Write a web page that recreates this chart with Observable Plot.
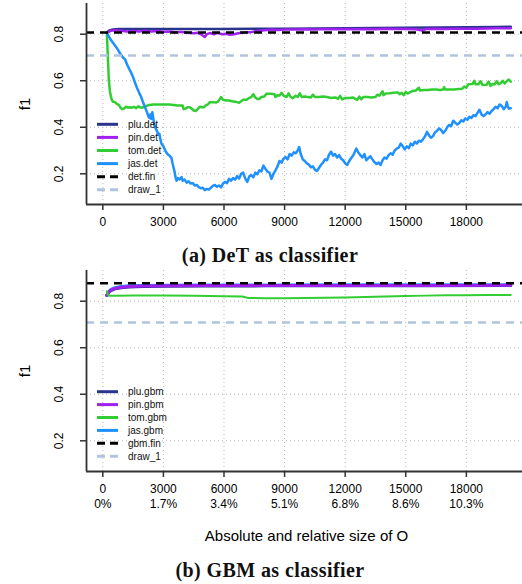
<!DOCTYPE html>
<html><head><meta charset="utf-8">
<script src="https://cdn.jsdelivr.net/npm/d3@7"></script>
<script src="https://cdn.jsdelivr.net/npm/@observablehq/plot@0.6"></script>
<style>
body{margin:0;background:#fff;}
#root{position:relative;width:522px;height:584px;overflow:hidden;font-family:"Liberation Sans",Arial,sans-serif;background:#fff;}
.panel{position:absolute;left:0;}
.caption{position:absolute;left:0;width:540px;text-align:center;font-family:"Liberation Serif","Times New Roman",serif;font-weight:bold;font-size:20px;line-height:24px;color:#111;letter-spacing:0.4px;}
#legend{position:absolute;left:0;top:0;pointer-events:none;}
</style></head><body><div id="root"></div><script>
// ---------- axes / ticks ----------
const xDomain = [-808, 20780];
const yDomain = [0.068, 0.932];
const xTicks = [0, 3000, 6000, 9000, 12000, 15000, 18000];
const xPct = ["0%", "1.7%", "3.4%", "5.1%", "6.8%", "8.6%", "10.3%"];
const yTicks = [0.2, 0.4, 0.6, 0.8];
const yLabel = "f1";
const xTitle = "Absolute and relative size of O";
const captionA = "(a) DeT as classifier";
const captionB = "(b) GBM as classifier";

// ---------- colours ----------
const colPlu = "#28348e", colPin = "#a020f0", colTom = "#32cd32", colJas = "#1e90ff";
const colFin = "#000000", colDraw = "#b0c4de";

// ---------- reference lines ----------
const detFin = 0.807;
const gbmFin = 0.877;
const draw1 = 0.709;

// ---------- (a) DeT series: [size of O, f1] ----------
const pluDet = [[200,0.806],[300,0.815],[500,0.820],[800,0.822],[1500,0.822],[3000,0.822],[4500,0.822],[6000,0.822],[7500,0.823],[9000,0.824],[10500,0.825],[12000,0.826],[13500,0.827],[15000,0.828],[16500,0.829],[18000,0.830],[19500,0.831],[20200,0.832]];
const pinDet = [[200,0.806],[400,0.815],[600,0.817],[900,0.815],[1200,0.812],[1500,0.814],[1800,0.812],[2100,0.815],[2400,0.812],[2700,0.814],[3000,0.811],[3300,0.812],[3600,0.808],[3900,0.810],[4200,0.806],[4500,0.804],[4700,0.806],[4900,0.798],[5050,0.788],[5150,0.800],[5300,0.805],[5500,0.800],[5700,0.806],[5900,0.800],[6100,0.802],[6300,0.798],[6500,0.800],[6700,0.804],[6900,0.806],[7100,0.808],[7300,0.808],[7500,0.812],[7700,0.815],[7900,0.816],[8100,0.818],[8400,0.819],[8700,0.818],[9000,0.820],[9500,0.820],[10000,0.821],[10500,0.820],[11000,0.822],[11500,0.821],[12000,0.822],[12500,0.821],[13000,0.822],[13500,0.821],[14000,0.823],[14500,0.822],[15000,0.822],[15500,0.821],[15800,0.816],[16000,0.822],[16500,0.823],[17000,0.822],[17500,0.824],[18000,0.824],[18500,0.823],[19000,0.825],[19500,0.826],[20200,0.826]];
const tomDet = [[200,0.806],[250,0.700],[300,0.600],[350,0.555],[400,0.532],[450,0.518],[500,0.510],[600,0.508],[700,0.500],[800,0.495],[900,0.482],[950,0.478],[1050,0.480],[1150,0.488],[1250,0.484],[1350,0.486],[1450,0.484],[1550,0.488],[1650,0.482],[1750,0.490],[1850,0.486],[1950,0.484],[2050,0.488],[2150,0.492],[2300,0.496],[2500,0.498],[2700,0.498],[2900,0.498],[3100,0.498],[3300,0.498],[3500,0.496],[3700,0.494],[3850,0.494],[3950,0.494],[4000,0.478],[4100,0.480],[4200,0.486],[4300,0.486],[4400,0.480],[4500,0.472],[4600,0.470],[4700,0.478],[4800,0.488],[4900,0.486],[5000,0.486],[5100,0.494],[5200,0.498],[5300,0.508],[5450,0.508],[5600,0.506],[5700,0.510],[5800,0.522],[5850,0.530],[5950,0.518],[6100,0.515],[6250,0.515],[6400,0.512],[6550,0.510],[6650,0.508],[6750,0.505],[6850,0.512],[6950,0.518],[7100,0.518],[7250,0.526],[7350,0.530],[7450,0.542],[7550,0.528],[7650,0.522],[7750,0.522],[7850,0.530],[8000,0.532],[8100,0.544],[8300,0.544],[8500,0.542],[8550,0.530],[8650,0.538],[8750,0.536],[8850,0.548],[8950,0.536],[9100,0.530],[9200,0.546],[9300,0.530],[9400,0.525],[9550,0.535],[9650,0.530],[9750,0.546],[9850,0.530],[10000,0.532],[10150,0.530],[10300,0.528],[10400,0.540],[10500,0.530],[10700,0.530],[10900,0.532],[11100,0.530],[11300,0.526],[11500,0.528],[11650,0.522],[11750,0.535],[11850,0.520],[12000,0.526],[12200,0.526],[12400,0.528],[12500,0.522],[12600,0.518],[12700,0.532],[12800,0.520],[12900,0.530],[13100,0.530],[13300,0.528],[13500,0.530],[13600,0.540],[13700,0.536],[13850,0.555],[13900,0.538],[14000,0.545],[14200,0.546],[14400,0.548],[14600,0.550],[14700,0.542],[14800,0.548],[14900,0.538],[15000,0.552],[15100,0.545],[15200,0.550],[15350,0.556],[15500,0.558],[15650,0.570],[15700,0.558],[15900,0.560],[16100,0.560],[16300,0.562],[16500,0.562],[16700,0.560],[16850,0.562],[16900,0.572],[16950,0.562],[17200,0.562],[17400,0.562],[17600,0.564],[17800,0.566],[17900,0.575],[18000,0.570],[18100,0.585],[18300,0.586],[18400,0.600],[18450,0.585],[18600,0.585],[18700,0.598],[18800,0.582],[19000,0.583],[19100,0.596],[19200,0.578],[19300,0.586],[19400,0.584],[19500,0.598],[19600,0.585],[19700,0.590],[19800,0.600],[19900,0.588],[20000,0.598],[20100,0.605],[20200,0.596]];
const jasDet = [[200,0.806],[400,0.775],[550,0.758],[700,0.740],[850,0.718],[1000,0.700],[1100,0.692],[1200,0.670],[1300,0.652],[1400,0.635],[1500,0.615],[1600,0.590],[1700,0.568],[1800,0.548],[1900,0.530],[2000,0.505],[2100,0.484],[2200,0.462],[2250,0.448],[2300,0.440],[2350,0.455],[2400,0.436],[2450,0.465],[2500,0.438],[2550,0.410],[2600,0.398],[2700,0.380],[2750,0.368],[2800,0.372],[2850,0.348],[2900,0.330],[3000,0.318],[3100,0.298],[3200,0.285],[3300,0.278],[3400,0.268],[3450,0.245],[3550,0.210],[3600,0.185],[3650,0.170],[3700,0.182],[3800,0.176],[3900,0.186],[3950,0.170],[4050,0.175],[4150,0.162],[4250,0.168],[4350,0.158],[4450,0.160],[4550,0.150],[4650,0.152],[4750,0.143],[4850,0.138],[4950,0.140],[5050,0.130],[5150,0.135],[5250,0.132],[5350,0.140],[5450,0.148],[5550,0.152],[5650,0.144],[5750,0.150],[5850,0.142],[5950,0.158],[6050,0.165],[6150,0.160],[6250,0.178],[6350,0.170],[6450,0.182],[6550,0.175],[6650,0.190],[6750,0.180],[6850,0.200],[6950,0.205],[7050,0.180],[7150,0.165],[7250,0.188],[7350,0.195],[7450,0.185],[7550,0.205],[7650,0.198],[7750,0.215],[7850,0.210],[7950,0.235],[8050,0.222],[8150,0.210],[8250,0.205],[8350,0.178],[8450,0.200],[8550,0.215],[8650,0.232],[8750,0.255],[8850,0.248],[8950,0.265],[9050,0.272],[9150,0.262],[9250,0.285],[9350,0.278],[9450,0.292],[9550,0.288],[9650,0.300],[9720,0.315],[9800,0.285],[9900,0.262],[10000,0.255],[10100,0.245],[10200,0.240],[10300,0.228],[10400,0.232],[10500,0.218],[10600,0.212],[10700,0.225],[10800,0.238],[10900,0.248],[11000,0.262],[11100,0.258],[11200,0.282],[11300,0.295],[11400,0.278],[11500,0.285],[11600,0.270],[11700,0.280],[11800,0.265],[11900,0.258],[12000,0.245],[12100,0.238],[12200,0.255],[12300,0.268],[12400,0.280],[12550,0.308],[12650,0.292],[12750,0.280],[12850,0.270],[12950,0.285],[13050,0.258],[13150,0.268],[13250,0.275],[13350,0.262],[13450,0.250],[13550,0.242],[13650,0.248],[13750,0.238],[13850,0.258],[13950,0.270],[14050,0.265],[14150,0.280],[14250,0.288],[14350,0.282],[14450,0.300],[14550,0.308],[14650,0.312],[14750,0.330],[14850,0.318],[14950,0.305],[15050,0.318],[15150,0.310],[15250,0.330],[15350,0.322],[15450,0.338],[15550,0.330],[15650,0.342],[15750,0.338],[15850,0.348],[15950,0.360],[16050,0.380],[16150,0.365],[16250,0.355],[16350,0.362],[16450,0.378],[16550,0.385],[16650,0.395],[16750,0.388],[16850,0.375],[16950,0.385],[17050,0.400],[17150,0.410],[17250,0.405],[17350,0.428],[17450,0.420],[17550,0.412],[17650,0.418],[17750,0.430],[17850,0.425],[17950,0.438],[18050,0.432],[18150,0.445],[18250,0.440],[18350,0.452],[18450,0.448],[18550,0.462],[18650,0.475],[18750,0.455],[18850,0.448],[18950,0.455],[19050,0.465],[19150,0.458],[19250,0.470],[19350,0.478],[19450,0.488],[19550,0.482],[19650,0.498],[19750,0.492],[19850,0.478],[19950,0.488],[20000,0.508],[20050,0.492],[20100,0.480],[20200,0.482]];

// ---------- (b) GBM series ----------
const pluGbm = [[200,0.825],[300,0.838],[400,0.846],[600,0.853],[900,0.858],[1300,0.861],[2000,0.863],[3000,0.864],[5000,0.865],[8000,0.866],[12000,0.866],[16000,0.866],[20200,0.867]];
const pinGbm = [[200,0.826],[300,0.840],[400,0.848],[600,0.855],[900,0.860],[1300,0.863],[2000,0.865],[3000,0.866],[5000,0.867],[8000,0.868],[12000,0.868],[16000,0.868],[20200,0.869]];
const tomGbm = [[200,0.843],[250,0.830],[300,0.824],[600,0.824],[1500,0.825],[3000,0.825],[4500,0.823],[6000,0.821],[6900,0.820],[7200,0.814],[8000,0.813],[9000,0.813],[10000,0.814],[11000,0.815],[12000,0.816],[13000,0.818],[14000,0.820],[15000,0.822],[16000,0.824],[17000,0.826],[18000,0.826],[19000,0.827],[20200,0.827]];
const jasGbm = [[200,0.824],[300,0.842],[400,0.851],[600,0.858],[900,0.863],[1300,0.866],[2000,0.868],[3000,0.869],[5000,0.870],[8000,0.870],[12000,0.871],[16000,0.871],[20200,0.871]];

const legendA = [["plu.det", colPlu, null], ["pin.det", colPin, null], ["tom.det", colTom, null], ["jas.det", colJas, null], ["det.fin", colFin, "8,5"], ["draw_1", colDraw, "8,5"]];
const legendB = [["plu.gbm", colPlu, null], ["pin.gbm", colPin, null], ["tom.gbm", colTom, null], ["jas.gbm", colJas, null], ["gbm.fin", colFin, "8,5"], ["draw_1", colDraw, "8,5"]];

const root = document.getElementById("root");
const FONT = "'Liberation Sans', Arial, sans-serif";

function panel({series, fin, height, marginBottom, twoLine, withTitle}) {
  const gridStyle = {stroke: "#b8b8b8", strokeOpacity: 1, strokeDasharray: "1,3", strokeWidth: 1};
  const marks = [
    Plot.gridX(xTicks, gridStyle),
    Plot.gridY(yTicks, gridStyle),
    ...series.map(([data, color, w]) => Plot.line(data, {x: d => d[0], y: d => d[1], stroke: color, strokeWidth: w, strokeLinejoin: "round"})),
    Plot.ruleY([draw1], {stroke: colDraw, strokeWidth: 2.5, strokeDasharray: "8,6"}),
    Plot.ruleY([fin], {stroke: colFin, strokeWidth: 2.5, strokeDasharray: "8,6"}),
    Plot.ruleX([xDomain[0]], {stroke: "#333", strokeWidth: 1.8}),
    Plot.ruleY([yDomain[0]], {stroke: "#333", strokeWidth: 1.8}),
    Plot.axisX(xTicks, {label: null, tickSize: 6, tickPadding: 4, fontSize: 12, stroke: "#333", strokeWidth: 1.5,
      lineHeight: 1.3,
      tickFormat: twoLine ? (d => d + "\n" + xPct[xTicks.indexOf(d)]) : (d => String(d))}),
    Plot.axisY(yTicks, {label: null, tickSize: 6, tickRotate: -90, tickPadding: 18, fontSize: 12, stroke: "#333", strokeWidth: 1.5, tickFormat: d => d.toFixed(1)}),
    Plot.text([yLabel], {text: d => d, frameAnchor: "left", dx: -61, rotate: -90, fontSize: 15, textAnchor: "middle", lineAnchor: "middle"})
  ];
  if (withTitle) marks.push(Plot.text([xTitle], {text: d => d, frameAnchor: "bottom", dx: 2, dy: 65, fontSize: 15, textAnchor: "middle", lineAnchor: "middle"}));
  return Plot.plot({
    width: 522, height, marginTop: 3, marginBottom, marginLeft: 86, marginRight: 0,
    x: {domain: xDomain}, y: {domain: yDomain},
    style: {fontFamily: FONT, fontSize: "12px", color: "#000", background: "transparent", overflow: "visible"},
    marks
  });
}

const pA = panel({series: [[pluDet, colPlu, 2.5], [pinDet, colPin, 2.5], [tomDet, colTom, 2.5], [jasDet, colJas, 2.5]], fin: detFin, height: 232, marginBottom: 28, twoLine: false, withTitle: false});
const divA = document.createElement("div"); divA.className = "panel"; divA.style.top = "0px"; divA.appendChild(pA); root.appendChild(divA);

const pB = panel({series: [[pluGbm, colPlu, 3], [jasGbm, colJas, 3], [pinGbm, colPin, 3], [tomGbm, colTom, 2]], fin: gbmFin, height: 285, marginBottom: 81, twoLine: true, withTitle: true});
const divB = document.createElement("div"); divB.className = "panel"; divB.style.top = "267px"; divB.appendChild(pB); root.appendChild(divB);

for (const [txt, top] of [[captionA, 243], [captionB, 558]]) {
  const c = document.createElement("div"); c.className = "caption"; c.style.top = top + "px"; c.textContent = txt; root.appendChild(c);
}

// legends (transparent boxes, as in the original)
const svg = d3.select(root).append("svg").attr("id", "legend").attr("width", 522).attr("height", 584);
function legend(entries, y0, step) {
  entries.forEach(([label, color, dash], i) => {
    const y = y0 + i * step;
    svg.append("line").attr("x1", 97).attr("x2", 118).attr("y1", y).attr("y2", y)
      .attr("stroke", color).attr("stroke-width", 3).attr("stroke-dasharray", dash);
    svg.append("text").attr("x", 128).attr("y", y).attr("dy", "0.36em")
      .attr("font-family", FONT).attr("font-size", 10).attr("fill", "#111").text(label);
  });
}
legend(legendA, 124.3, 13.1);
legend(legendB, 391.7, 12.9);
</script></body></html>
